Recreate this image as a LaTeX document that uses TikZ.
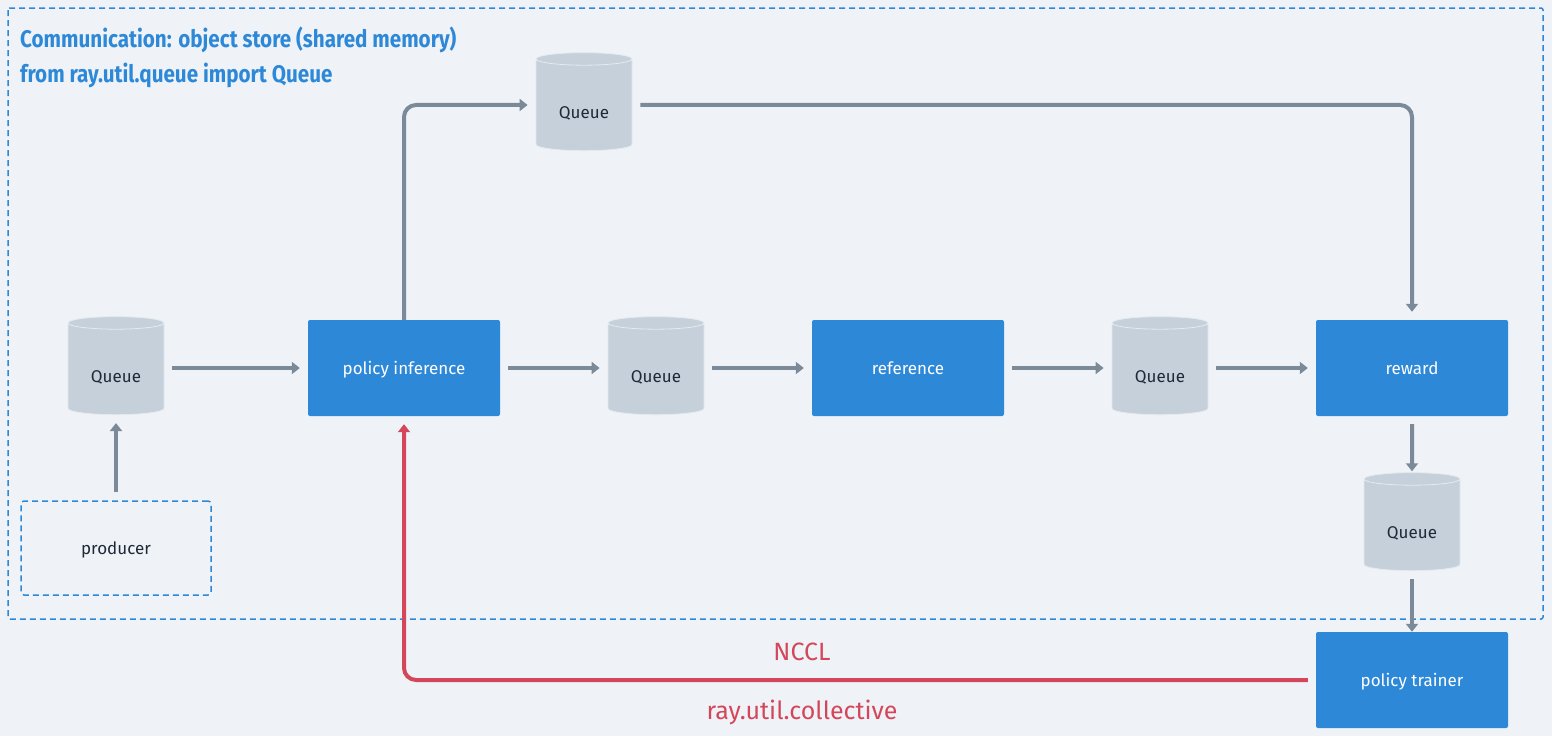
\documentclass[tikz,border=0pt]{standalone}
\usepackage{fontspec}
\setmainfont{Fira Sans}
\newfontfamily\titlefont{Fira Sans}[FakeStretch=0.86]
\usetikzlibrary{shapes.geometric}
\usetikzlibrary{arrows.meta}
\definecolor{bgcol}{HTML}{EFF3F7}
\definecolor{boxblue}{HTML}{2D88D8}
\definecolor{queuegray}{HTML}{C5D0DA}
\definecolor{flowgray}{HTML}{7A8A99}
\definecolor{ncclred}{HTML}{D4475A}
\definecolor{textdark}{HTML}{1F2937}
\tikzset{>={Triangle[length=8pt,width=12pt]}}
\tikzset{
	queuecyl/.style={cylinder,shape border rotate=90,aspect=0.25,minimum width=96pt,minimum height=98pt,inner sep=0pt,
		fill=queuegray,draw=queuegray!45!white,line width=0.8pt,text=textdark,font=\fontsize{17}{20}\selectfont,
		text height=26pt,text depth=0pt},
	stagebox/.style={rectangle,rounded corners=2pt,minimum width=192pt,minimum height=96pt,inner sep=0pt,
		fill=boxblue,text=white,font=\fontsize{17}{20}\selectfont,text height=13pt,text depth=0pt},
	flow/.style={draw=flowgray,line width=4pt,rounded corners=12pt},
	nccl/.style={draw=ncclred,line width=4pt,rounded corners=12pt},
	gap/.style={shorten <=8pt,shorten >=8pt}
}

\begin{document}
\begin{tikzpicture}[x=1pt,y=-1pt]
		\useasboundingbox[fill=bgcol] (0,0) rectangle (1552,736);
		\draw[boxblue,line width=1.5pt,dash pattern=on 6pt off 4pt,rounded corners=2pt] (8,8) rectangle (1543,619);
		\node[anchor=west,inner sep=0pt,text=boxblue,font=\titlefont\bfseries\fontsize{24}{28}\selectfont] (title) at (20,40) {Communication: object store (shared memory)};
		\node[anchor=west,inner sep=0pt,text=boxblue,font=\titlefont\bfseries\fontsize{24}{28}\selectfont] (subtitle) at (20,75) {from ray.util.queue import Queue};
		% stages
		\node[stagebox] (inference) at (404,368) {policy inference};
		\node[stagebox] (reference) at (908,368) {reference};
		\node[stagebox] (reward) at (1412,368) {reward};
		\node[stagebox] (trainer) at (1412,680) {policy trainer};
		\node[rectangle,rounded corners=3pt,draw=boxblue,line width=1.5pt,dash pattern=on 6pt off 4pt,minimum width=190pt,minimum height=94pt,
			text=textdark,font=\fontsize{17}{20}\selectfont,text height=13pt,text depth=0pt] (producer) at (116,548) {producer};
		% queues
		\node[queuecyl] (qin) at (116,369) {Queue};
		\node[queuecyl] (qtop) at (584,105) {Queue};
		\node[queuecyl] (qref) at (656,369) {Queue};
		\node[queuecyl] (qrew) at (1160,369) {Queue};
		\node[queuecyl] (qtrain) at (1412,525) {Queue};
		% object store
		\draw[flow,gap,->] (producer) -- (qin);
		\draw[flow,gap,->] (qin.east |- inference.west) -- (inference);
		\draw[flow,gap,->] (inference) -- (qref.west |- inference.east);
		\draw[flow,gap,->] (qref.east |- reference.west) -- (reference);
		\draw[flow,gap,->] (reference) -- (qrew.west |- reference.east);
		\draw[flow,gap,->] (qrew.east |- reward.west) -- (reward);
		\draw[flow,shorten >=8pt,->] (inference.north) |- (qtop.west);
		\draw[flow,gap,->] (qtop.east) -| (reward.north);
		\draw[flow,shorten <=8pt,shorten >=1pt,->] (reward.south) -- (qtrain.north);
		\draw[flow,shorten <=8pt,->] (qtrain.south) -- (trainer.north);
		% weight sync
		\draw[nccl,gap,->] (trainer.west) -| (inference.south);
		\node[text=ncclred,font=\fontsize{25}{29}\selectfont] (ncclLabel) at (802,652) {NCCL};
		\node[text=ncclred,font=\fontsize{25}{29}\selectfont] (collectiveLabel) at (802,712) {ray.util.collective};
	\end{tikzpicture}
\end{document}
